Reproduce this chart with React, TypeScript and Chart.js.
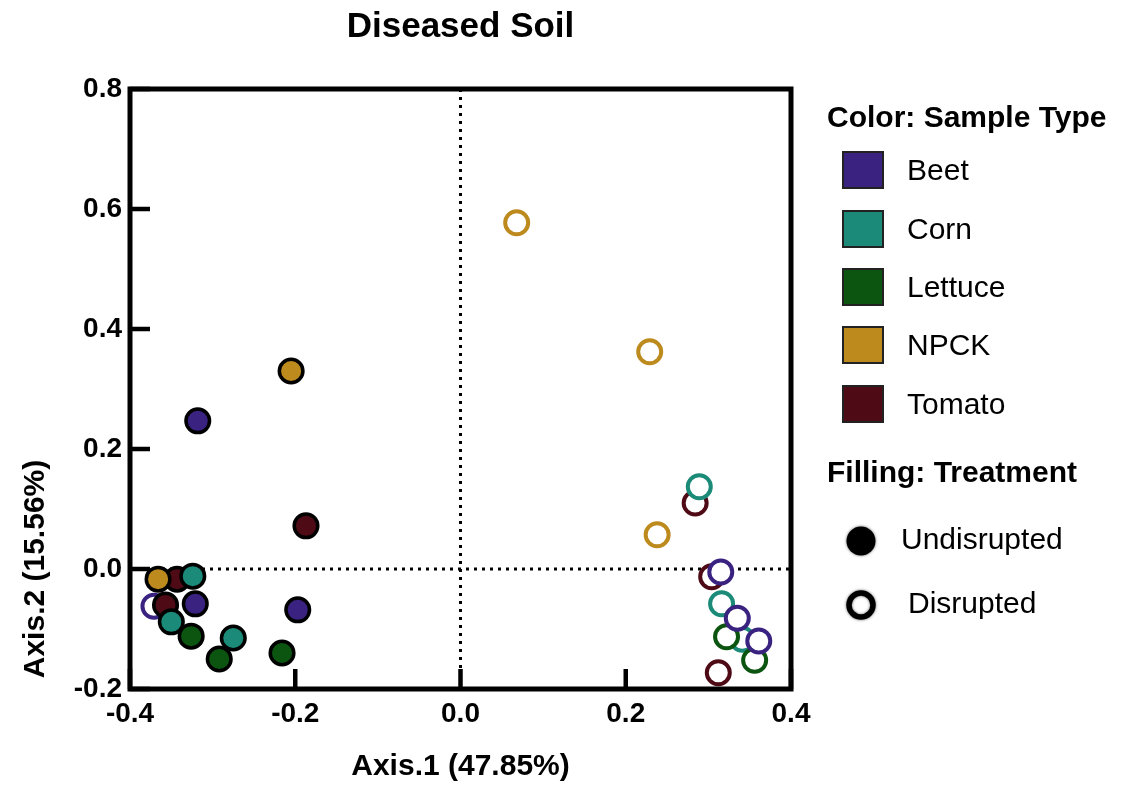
import React, { useEffect, useRef } from 'react';
import { Chart, registerables } from 'chart.js';

Chart.register(...registerables);

const FONT = '"Liberation Sans", Arial, Helvetica, sans-serif';

const chartTitle = 'Diseased Soil';
const xAxisTitle = 'Axis.1 (47.85%)';
const yAxisTitle = 'Axis.2 (15.56%)';
const colorLegendTitle = 'Color: Sample Type';
const fillLegendTitle = 'Filling: Treatment';

const sampleTypes = ['Beet', 'Corn', 'Lettuce', 'NPCK', 'Tomato'];
const typeColors = ['#3a2280', '#1b8a78', '#0c5510', '#bd8a1e', '#4e0a15'];
const treatments = ['Undisrupted', 'Disrupted'];

const xTicks = [-0.4, -0.2, 0, 0.2, 0.4];
const xTickLabels = ['-0.4', '-0.2', '0.0', '0.2', '0.4'];
const yTicks = [-0.2, 0, 0.2, 0.4, 0.6, 0.8];
const yTickLabels = ['-0.2', '0.0', '0.2', '0.4', '0.6', '0.8'];

// Undisrupted (filled)
const beetUndX = [-0.318, -0.197, -0.321];
const beetUndY = [0.247, -0.068, -0.058];
const cornUndX = [-0.324, -0.35, -0.275];
const cornUndY = [-0.012, -0.088, -0.115];
const lettuceUndX = [-0.326, -0.292, -0.216];
const lettuceUndY = [-0.112, -0.15, -0.14];
const npckUndX = [-0.205, -0.366];
const npckUndY = [0.33, -0.017];
const tomatoUndX = [-0.187, -0.357, -0.343];
const tomatoUndY = [0.072, -0.06, -0.017];

// Disrupted (open)
const beetDisX = [-0.371, 0.315, 0.335, 0.361];
const beetDisY = [-0.062, -0.005, -0.082, -0.12];
const cornDisX = [0.289, 0.316, 0.341];
const cornDisY = [0.137, -0.058, -0.117];
const lettuceDisX = [0.322, 0.356];
const lettuceDisY = [-0.113, -0.152];
const npckDisX = [0.068, 0.229, 0.238];
const npckDisY = [0.577, 0.362, 0.057];
const tomatoDisX = [0.284, 0.304, 0.312];
const tomatoDisY = [0.11, -0.013, -0.173];

const zip = (xs: number[], ys: number[]) => xs.map((x, i) => ({ x, y: ys[i] }));

function filledSet(label: string, color: string, xs: number[], ys: number[]) {
  return {
    label,
    data: zip(xs, ys),
    backgroundColor: color,
    borderColor: '#000000',
    borderWidth: 3.5,
    pointRadius: 11.8,
    pointHoverRadius: 11.8,
  };
}

function openSet(label: string, color: string, xs: number[], ys: number[]) {
  return {
    label,
    data: zip(xs, ys),
    backgroundColor: '#ffffff',
    borderColor: color,
    borderWidth: 4,
    pointRadius: 11.5,
    pointHoverRadius: 11.5,
  };
}

const decorPlugin = {
  id: 'decor',
  beforeDatasetsDraw(chart: any) {
    const { ctx, chartArea: a, scales } = chart;
    const x0 = scales.x.getPixelForValue(0);
    const y0 = scales.y.getPixelForValue(0);
    ctx.save();
    ctx.strokeStyle = '#000';
    ctx.lineWidth = 3;
    ctx.setLineDash([3, 5]);
    ctx.beginPath();
    ctx.moveTo(a.left, y0);
    ctx.lineTo(a.right, y0);
    ctx.moveTo(x0, a.top);
    ctx.lineTo(x0, a.bottom);
    ctx.stroke();
    ctx.restore();
  },
  afterDraw(chart: any) {
    const { ctx, chartArea: a, scales } = chart;
    ctx.save();
    // frame
    ctx.strokeStyle = '#000';
    ctx.lineWidth = 5;
    ctx.setLineDash([]);
    ctx.strokeRect(a.left, a.top, a.right - a.left, a.bottom - a.top);
    // inner ticks
    ctx.lineWidth = 4.5;
    ctx.beginPath();
    xTicks.forEach((v) => {
      const px = scales.x.getPixelForValue(v);
      ctx.moveTo(px, a.bottom);
      ctx.lineTo(px, a.bottom - 20);
    });
    yTicks.forEach((v) => {
      const py = scales.y.getPixelForValue(v);
      ctx.moveTo(a.left, py);
      ctx.lineTo(a.left + 20, py);
    });
    ctx.stroke();

    ctx.fillStyle = '#000';
    ctx.textBaseline = 'middle';
    // title
    ctx.font = `bold 35px ${FONT}`;
    ctx.textAlign = 'center';
    ctx.fillText(chartTitle, (a.left + a.right) / 2, 27);
    // axis titles
    ctx.font = `bold 30px ${FONT}`;
    ctx.fillText(xAxisTitle, (a.left + a.right) / 2, 767);
    ctx.save();
    ctx.translate(36, 569);
    ctx.rotate(-Math.PI / 2);
    ctx.fillText(yAxisTitle, 0, 0);
    ctx.restore();

    // legend: sample type
    ctx.textAlign = 'left';
    ctx.font = `bold 30px ${FONT}`;
    ctx.fillText(colorLegendTitle, 827, 119);
    const rowYs = [170, 229, 287, 345, 404];
    sampleTypes.forEach((name, i) => {
      const cy = rowYs[i];
      ctx.fillStyle = typeColors[i];
      ctx.fillRect(843, cy - 18, 40, 36);
      ctx.strokeStyle = '#222';
      ctx.lineWidth = 2;
      ctx.strokeRect(843, cy - 18, 40, 36);
      ctx.fillStyle = '#000';
      ctx.font = `30px ${FONT}`;
      ctx.fillText(name, 907, cy + 2);
    });

    // legend: treatment
    ctx.font = `bold 30px ${FONT}`;
    ctx.fillText(fillLegendTitle, 827, 474);
    ctx.save();
    ctx.shadowColor = 'rgba(0,0,0,0.6)';
    ctx.shadowBlur = 3;
    ctx.beginPath();
    ctx.arc(861, 541, 14.5, 0, Math.PI * 2);
    ctx.fillStyle = '#000';
    ctx.fill();
    ctx.beginPath();
    ctx.arc(861, 605, 12, 0, Math.PI * 2);
    ctx.fillStyle = '#fff';
    ctx.fill();
    ctx.lineWidth = 5.5;
    ctx.strokeStyle = '#000';
    ctx.stroke();
    ctx.restore();
    ctx.fillStyle = '#000';
    ctx.font = `30px ${FONT}`;
    ctx.fillText(treatments[0], 901, 541);
    ctx.fillText(treatments[1], 908, 605);
    ctx.restore();
  },
};

export default function App() {
  const canvasRef = useRef<HTMLCanvasElement | null>(null);

  useEffect(() => {
    const canvas = canvasRef.current;
    if (!canvas) return;
    const datasets = [
      filledSet('NPCK Undisrupted', typeColors[3], npckUndX, npckUndY),
      filledSet('Corn Undisrupted', typeColors[1], cornUndX, cornUndY),
      filledSet('Lettuce Undisrupted', typeColors[2], lettuceUndX, lettuceUndY),
      filledSet('Tomato Undisrupted', typeColors[4], tomatoUndX, tomatoUndY),
      filledSet('Beet Undisrupted', typeColors[0], beetUndX, beetUndY),
      openSet('Beet Disrupted', typeColors[0], beetDisX, beetDisY),
      openSet('Lettuce Disrupted', typeColors[2], lettuceDisX, lettuceDisY),
      openSet('Corn Disrupted', typeColors[1], cornDisX, cornDisY),
      openSet('Tomato Disrupted', typeColors[4], tomatoDisX, tomatoDisY),
      openSet('NPCK Disrupted', typeColors[3], npckDisX, npckDisY),
    ];
    const chart = new Chart(canvas, {
      type: 'scatter',
      data: { datasets } as any,
      options: {
        responsive: false,
        animation: false,
        devicePixelRatio: 1,
        layout: { padding: { left: 0, top: 89, right: 338, bottom: 0 } },
        plugins: {
          legend: { display: false },
          title: { display: false },
          tooltip: { enabled: false },
        },
        scales: {
          x: {
            type: 'linear',
            min: -0.4,
            max: 0.4,
            grid: { display: false, drawTicks: false },
            border: { display: false },
            afterBuildTicks: (scale: any) => {
              scale.ticks = xTicks.map((v) => ({ value: v }));
            },
            afterFit: (scale: any) => {
              scale.height = 97;
            },
            ticks: {
              padding: 8,
              maxRotation: 0,
              autoSkip: false,
              color: '#000',
              font: { family: FONT, size: 28, weight: 'bold' },
              callback: (_v: any, i: number) => xTickLabels[i],
            },
          },
          y: {
            type: 'linear',
            min: -0.2,
            max: 0.8,
            grid: { display: false, drawTicks: false },
            border: { display: false },
            afterBuildTicks: (scale: any) => {
              scale.ticks = yTicks.map((v) => ({ value: v }));
            },
            afterFit: (scale: any) => {
              scale.width = 130;
            },
            ticks: {
              padding: 8,
              autoSkip: false,
              color: '#000',
              font: { family: FONT, size: 28, weight: 'bold' },
              callback: (_v: any, i: number) => yTickLabels[i],
            },
          },
        },
      } as any,
      plugins: [decorPlugin],
    });
    return () => chart.destroy();
  }, []);

  return (
    <div style={{ position: 'absolute', left: 0, top: 0, width: 1129, height: 786, background: '#fff' }}>
      <canvas ref={canvasRef} width={1129} height={786} style={{ display: 'block' }} />
    </div>
  );
}
